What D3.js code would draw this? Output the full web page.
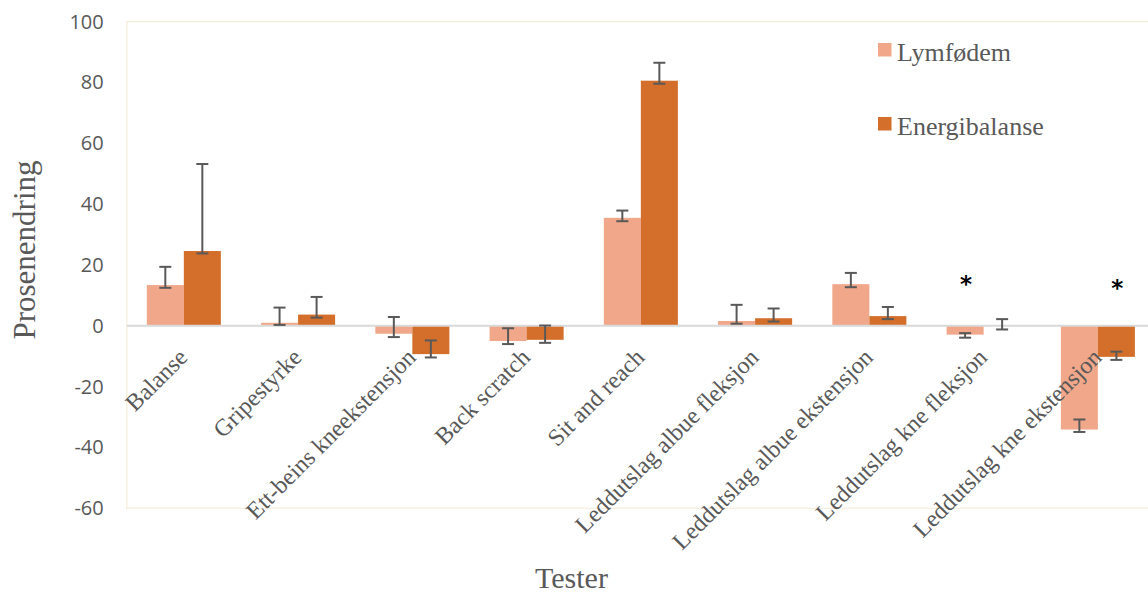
<!DOCTYPE html>
<html>
<head>
<meta charset="utf-8">
<script src="https://cdn.jsdelivr.net/npm/d3@7"></script>
<style>
  body { margin: 0; background: #fff; }
  svg { display: block; }
</style>
</head>
<body>
<div id="chart"></div>
<script>
// Data (percent change)
const categories = [
    "Balanse", "Gripestyrke", "Ett-beins kneekstensjon", "Back scratch", "Sit and reach",
    "Leddutslag albue fleksjon", "Leddutslag albue ekstensjon", "Leddutslag kne fleksjon",
    "Leddutslag kne ekstensjon"
];
const seriesNames = ["Lymfødem", "Energibalanse"];
const lymfodem = [13.4, 1.0, -2.6, -5.0, 35.5, 1.6, 13.7, -2.9, -34.1];
const energibalanse = [24.6, 3.7, -9.3, -4.6, 80.6, 2.5, 3.2, 0.0, -10.2];
// error bar ends [low, high]
const lymfodemErr = [[12.5, 19.4], [0.3, 6.0], [-3.7, 2.9], [-6.0, -0.8], [34.4, 37.9],
    [0.7, 6.9], [12.7, 17.4], [-3.9, -2.4], [-34.9, -30.8]];
const energiErr = [[23.8, 53.2], [2.7, 9.5], [-10.4, -4.8], [-5.6, 0.1], [79.6, 86.5],
    [1.4, 5.7], [2.2, 6.2], [-1.2, 2.2], [-11.2, -8.5]];
const yTicks = [-60, -40, -20, 0, 20, 40, 60, 80, 100];
// significance marks: category index, series index, height (axis units)
const stars = [[7, 0, 15.5], [8, 1, 14.5]];

const colors = ["#F0A78A", "#D36E2B"];
const width = 1148, height = 594;
const plot = { left: 126.7, top: 21.7, right: 1155, bottom: 508.3 };

const svg = d3.select("#chart").append("svg")
    .attr("width", width)
    .attr("height", height);

const x0 = d3.scaleBand()
    .domain(categories)
    .range([plot.left, plot.right])
    .paddingInner(0.352)
    .paddingOuter(0.176);
const x1 = d3.scaleBand()
    .domain(seriesNames)
    .range([0, x0.bandwidth()]);
const y = d3.scaleLinear()
    .domain([-60, 100])
    .range([plot.bottom, plot.top]);

// Plot area frame
svg.append("rect")
    .attr("x", plot.left)
    .attr("y", plot.top)
    .attr("width", plot.right - plot.left)
    .attr("height", plot.bottom - plot.top)
    .attr("fill", "none")
    .attr("stroke", "#F7F0E0")
    .attr("stroke-width", 1.5);

// Y axis (labels only)
const yAxis = svg.append("g")
    .attr("transform", `translate(${plot.left - 23},0)`)
    .call(d3.axisLeft(y).tickValues(yTicks).tickFormat(d => String(d)).tickSize(0).tickPadding(0));
yAxis.select(".domain").remove();
yAxis.selectAll("text")
    .attr("fill", "#595959")
    .style("font-family", "'Open Sans', sans-serif")
    .style("font-size", "20px");

const series = [
    { name: seriesNames[0], values: lymfodem, err: lymfodemErr, color: colors[0] },
    { name: seriesNames[1], values: energibalanse, err: energiErr, color: colors[1] }
];

// Bars
const groups = svg.append("g").selectAll("g")
    .data(series)
    .join("g")
    .attr("fill", d => d.color);
groups.selectAll("rect")
    .data(s => s.values.map((v, i) => ({ cat: categories[i], v, name: s.name })))
    .join("rect")
    .attr("x", d => x0(d.cat) + x1(d.name))
    .attr("width", x1.bandwidth())
    .attr("y", d => y(Math.max(0, d.v)))
    .attr("height", d => Math.abs(y(d.v) - y(0)));

// Zero line
svg.append("line")
    .attr("x1", plot.left)
    .attr("x2", plot.right)
    .attr("y1", y(0))
    .attr("y2", y(0))
    .attr("stroke", "#D9D9D9")
    .attr("stroke-width", 2);

// Error bars
const errData = [];
series.forEach(s => s.err.forEach((e, i) => errData.push({
    cx: x0(categories[i]) + x1(s.name) + x1.bandwidth() / 2, lo: e[0], hi: e[1]
})));
const eb = svg.append("g")
    .attr("stroke", "#595959")
    .attr("stroke-width", 2)
    .selectAll("g")
    .data(errData)
    .join("g");
eb.append("line")
    .attr("x1", d => d.cx).attr("x2", d => d.cx)
    .attr("y1", d => y(d.lo)).attr("y2", d => y(d.hi));
eb.append("line")
    .attr("x1", d => d.cx - 6).attr("x2", d => d.cx + 6)
    .attr("y1", d => y(d.lo)).attr("y2", d => y(d.lo));
eb.append("line")
    .attr("x1", d => d.cx - 6).attr("x2", d => d.cx + 6)
    .attr("y1", d => y(d.hi)).attr("y2", d => y(d.hi));

// Asterisks
svg.append("g").selectAll("text")
    .data(stars)
    .join("text")
    .attr("x", d => x0(categories[d[0]]) + x1(seriesNames[d[1]]) + x1.bandwidth() / 2 + 1)
    .attr("y", d => y(d[2]))
    .attr("dy", "0.6em")
    .attr("text-anchor", "middle")
    .style("font-family", "'DejaVu Sans', sans-serif")
    .style("font-weight", "bold")
    .style("font-size", "23px")
    .attr("fill", "#000")
    .text("*");

// Category labels, rotated
svg.append("g").selectAll("text")
    .data(categories)
    .join("text")
    .attr("transform", d => `translate(${x0(d) + x0.bandwidth() / 2 + 5},${y(0) + 33}) rotate(-45)`)
    .attr("text-anchor", "end")
    .attr("fill", "#595959")
    .style("font-family", "'Liberation Serif', serif")
    .style("font-size", "24px")
    .text(d => d);

// Axis titles
svg.append("text")
    .attr("transform", `translate(35,250) rotate(-90)`)
    .attr("text-anchor", "middle")
    .attr("fill", "#595959")
    .style("font-family", "'Liberation Serif', serif")
    .style("font-size", "31px")
    .text("Prosenendring");
svg.append("text")
    .attr("x", 571.5)
    .attr("y", 588)
    .attr("text-anchor", "middle")
    .attr("fill", "#595959")
    .style("font-family", "'Liberation Serif', serif")
    .style("font-size", "30px")
    .text("Tester");

// Legend
const legend = svg.append("g").selectAll("g")
    .data(series)
    .join("g")
    .attr("transform", (d, i) => `translate(878,${43 + i * 74})`);
legend.append("rect")
    .attr("width", 13.5)
    .attr("height", 13.5)
    .attr("fill", d => d.color);
legend.append("text")
    .attr("x", 19)
    .attr("y", 18)
    .attr("fill", "#595959")
    .style("font-family", "'Liberation Serif', serif")
    .style("font-size", "26px")
    .text(d => d.name);
</script>
</body>
</html>
